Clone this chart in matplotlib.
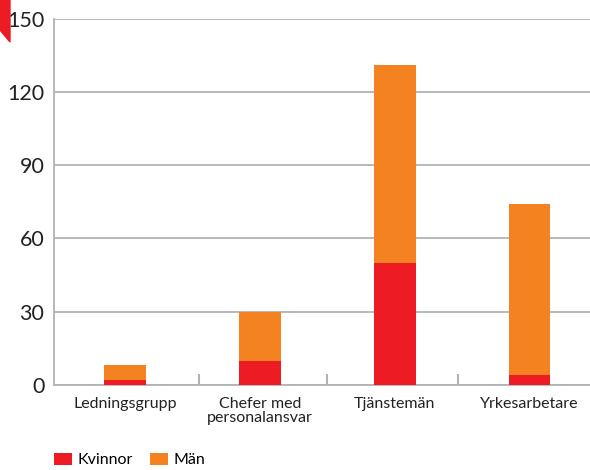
import matplotlib.pyplot as plt
from matplotlib.patches import Polygon

categories = ["Ledningsgrupp", "Chefer med\npersonalansvar", "Tjänstemän", "Yrkesarbetare"]
kvinnor = [2, 10, 50, 4]
man = [6, 20, 81, 70]
yticks = [0, 30, 60, 90, 120, 150]

RED = "#ED1C24"
ORANGE = "#F58220"
GREY = "#b3b3b3"

plt.rcParams["font.family"] = ["Lato", "DejaVu Sans"]

fig = plt.figure(figsize=(5.9, 4.7), dpi=100)
ax = fig.add_axes([0.0915, 0.181, 0.9085, 0.779])

x = list(range(len(categories)))
ax.bar(x, kvinnor, width=0.31, color=RED, label="Kvinnor", zorder=3)
ax.bar(x, man, width=0.31, bottom=kvinnor, color=ORANGE, label="Män", zorder=3)

ax.set_xlim(-0.53, 3.45)
ax.set_ylim(0, 150)
ax.set_yticks(yticks)
ax.tick_params(axis="y", length=0, labelsize=15.5, pad=7, colors="#222222")
ax.set_xticks(x)
ax.set_xticklabels(categories, fontsize=11.5, color="#222222", linespacing=1.0)
ax.tick_params(axis="x", which="major", length=0, pad=9)
ax.set_xticks([0.55, 1.5, 2.47], minor=True)
ax.tick_params(axis="x", which="minor", direction="in", length=8, width=1.5, color=GREY)

ax.grid(axis="y", color=GREY, linewidth=1.3, zorder=0)
for s in ["top", "right"]:
    ax.spines[s].set_visible(False)
ax.spines["left"].set_color(GREY)
ax.spines["bottom"].set_color(GREY)
ax.spines["left"].set_linewidth(1.3)
ax.spines["bottom"].set_linewidth(1.3)

# red corner tab
fig.patches.append(Polygon([[0, 1], [10 / 590, 1], [10 / 590, 1 - 42 / 470], [0, 1 - 30 / 470]],
                           closed=True, transform=fig.transFigure, color=RED))

fig.legend(loc="center left", bbox_to_anchor=(54 / 590, 1 - 460 / 470), ncol=2, frameon=False,
           fontsize=11.5, handlelength=1.1, handleheight=0.85, handletextpad=0.35,
           columnspacing=1.1, borderpad=0, borderaxespad=0)

fig.savefig("out.png", dpi=100)
